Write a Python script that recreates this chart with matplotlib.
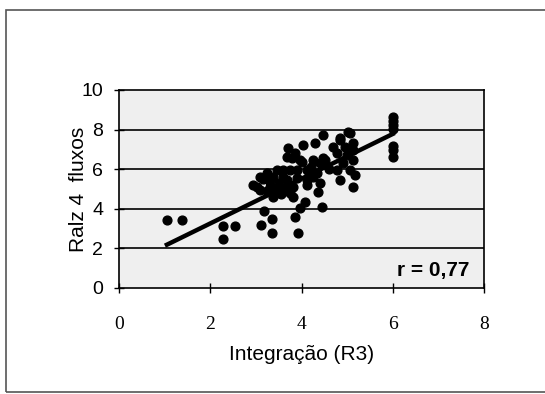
import numpy as np
import matplotlib
matplotlib.use("Agg")
import matplotlib.pyplot as plt
from matplotlib.patches import Rectangle

# valores
integracao = [1.05, 1.38, 2.28, 2.54, 2.28,
              3.18, 3.36, 3.11, 3.36, 3.93, 3.86, 3.97, 4.08, 4.45,
              2.94, 3.02, 3.09, 3.09, 3.16, 3.24, 3.31, 3.38, 3.38, 3.46,
              3.53, 3.60, 3.60, 3.64, 3.68, 3.68, 3.71, 3.75, 3.75, 3.79,
              3.82, 3.82, 3.86, 3.90, 3.90, 3.97, 4.00, 4.04, 4.12, 4.12,
              4.12, 4.26, 4.30, 4.34, 4.36, 4.41, 4.41, 4.47, 4.47, 4.52,
              4.70, 4.78, 4.78, 4.85, 4.85, 4.85, 4.92, 5.02, 5.07, 5.07,
              5.13, 5.13, 5.13, 5.13, 5.18, 5.00, 4.95, 4.60,
              3.50, 3.45, 3.55, 3.70, 3.30, 3.25, 4.20, 4.25,
              6.0, 6.0, 6.0, 6.0, 6.0, 6.0, 6.0]
raiz_fluxos = [3.43, 3.43, 3.13, 3.13, 2.50,
               3.90, 3.50, 3.18, 2.78, 2.78, 3.60, 4.04, 4.35, 4.10,
               5.20, 5.10, 5.60, 4.95, 5.50, 5.80, 5.10, 5.60, 4.60, 5.96,
               4.95, 5.60, 5.96, 4.95, 5.45, 6.62, 7.07, 4.80, 5.96, 6.57,
               5.10, 4.60, 6.80, 5.55, 5.96, 6.46, 6.36, 7.22, 5.45, 5.96,
               5.20, 5.60, 7.32, 5.80, 4.85, 5.30, 6.30, 6.57, 7.73, 6.46,
               7.12, 6.80, 5.96, 7.58, 7.47, 5.45, 6.30, 7.88, 7.83, 5.96,
               7.32, 6.97, 6.46, 5.10, 5.70, 6.70, 7.10, 6.00,
               5.30, 5.00, 4.75, 5.20, 5.35, 4.90, 6.10, 6.45,
               8.65, 8.45, 8.25, 8.05, 7.15, 6.95, 6.60]
# reta de tendência (como aparece no gráfico)
trend_intercept = 1.0
trend_slope = 1.13
r_text = "r = 0,77"
x_ticks = [0, 2, 4, 6, 8]
y_ticks = [0, 2, 4, 6, 8, 10]

x = np.array(integracao)
y = np.array(raiz_fluxos)
xl = np.array([x.min(), x.max()])

fig = plt.figure(figsize=(5.45, 3.94), dpi=100)
fig.patches.append(Rectangle((6 / 545, 2 / 394), 1, 382 / 394, transform=fig.transFigure,
                             fill=False, edgecolor='#555555', lw=1.2))
ax = fig.add_axes([119 / 545, 1 - 288 / 394, 365 / 545, 198 / 394])
ax.set_facecolor('#efefef')

for yt in y_ticks[1:-1]:
    ax.axhline(yt, color='black', lw=1.2, zorder=1)

ax.scatter(x, y, s=40, color='black', zorder=3)
ax.plot(xl, trend_intercept + trend_slope * xl, color='black', lw=3.2, zorder=4)

ax.set_xlim(0, 8)
ax.set_ylim(0, 10)
ax.set_xticks(x_ticks)
ax.set_yticks(y_ticks)
ax.set_xticklabels([str(t) for t in x_ticks], fontfamily='Liberation Serif', fontsize=14)
ax.set_yticklabels([str(t) for t in y_ticks], fontfamily='Liberation Sans', fontsize=14)
ax.tick_params(direction='inout', length=7, width=1, colors='black')
ax.tick_params(axis='x', pad=17)
ax.tick_params(axis='y', pad=8)
for s in ax.spines.values():
    s.set_color('black')
    s.set_linewidth(1.2)

ax.set_xlabel('Integração (R3)', fontfamily='Liberation Sans', fontsize=15, labelpad=8)
ax.set_ylabel('Ralz 4  fluxos', fontfamily='Liberation Sans', fontsize=15)
ax.yaxis.set_label_coords(-0.085, 0.5)
ax.text(0.96, 0.09, r_text, transform=ax.transAxes, ha='right', va='center',
        fontfamily='Liberation Sans', fontsize=15, fontweight='bold')

fig.savefig('out.png', dpi=100)
